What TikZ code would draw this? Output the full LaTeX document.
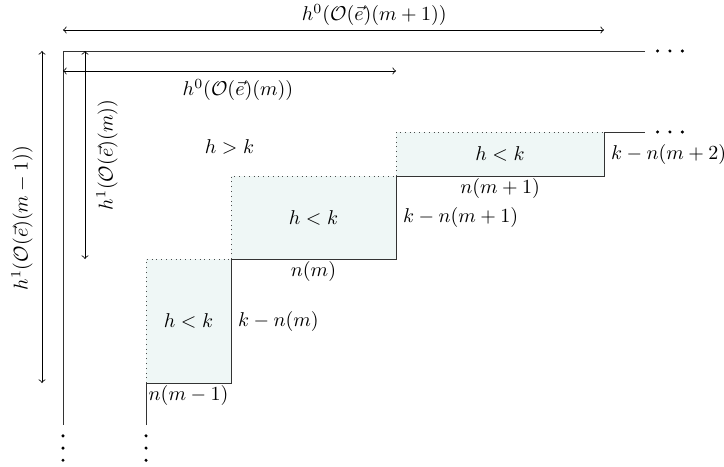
\documentclass[tikz,border=0pt]{standalone}
\usepackage{amsmath}
\usetikzlibrary{calc}

\definecolor{cellfill}{RGB}{239,247,246}

\begin{document}
\begin{tikzpicture}[
  >=to,
  frame/.style={draw=black!80},
  cell/.style={fill=cellfill},
  open/.style={dotted, draw=black!70},
  dot/.style={circle, fill=black, inner sep=0pt, minimum size=1.7pt},
]
\useasboundingbox (-1.107, 0.896) rectangle (11.615, -7.293);

% Corner and ends of the frame
\coordinate (O)  at (0, 0);
\coordinate (TR) at (10.227, 0);
\coordinate (BL) at (0, -6.572);

% Staircase corners
\coordinate (S0) at (1.459, -6.572);
\coordinate (S1) at (1.459, -5.834);
\coordinate (S2) at (2.952, -5.834);
\coordinate (S3) at (2.952, -3.655);
\coordinate (S4) at (5.852, -3.655);
\coordinate (S5) at (5.852, -2.197);
\coordinate (S6) at (9.507, -2.197);
\coordinate (S7) at (9.507, -1.423);
\coordinate (S8) at (10.227, -1.423);

% Shaded cells
\fill[cell] (S1) rectangle (S3);
\fill[cell] (S3) rectangle (S5);
\fill[cell] (S5) rectangle (S7);
\draw[open] (S1) |- (S3);
\draw[open] (S3) |- (S5);
\draw[open] (S5) |- (S7);

% Frame and staircase
\draw[frame] (TR) -- (O) -- (BL);
\draw[frame] (S0) -- (S1) -| (S3) -| (S5) -| (S7) -- (S8);

% Dots
\foreach \i in {0,1,2} {
  \node[dot] at ($(TR)+(0.22+0.218*\i, 0)$) {};
  \node[dot] at ($(S8)+(0.22+0.218*\i, 0)$) {};
  \node[dot] at ($(BL)+(0, -0.19-0.215*\i)$) {};
  \node[dot] at ($(S0)+(0, -0.19-0.215*\i)$) {};
}

% Dimension arrows
\coordinate (h0a) at (0, 0.369);
\coordinate (h0b) at (9.507, 0.369);
\coordinate (h0c) at (0, -0.351);
\coordinate (h0d) at (5.852, -0.351);
\coordinate (h1a) at (-0.369, 0);
\coordinate (h1b) at (-0.369, -5.834);
\coordinate (h1c) at (0.387, 0);
\coordinate (h1d) at (0.387, -3.655);
\draw[<->] (h0a) -- (h0b);
\draw[<->] (h0c) -- (h0d);
\draw[<->] (h1a) -- (h1b);
\draw[<->] (h1c) -- (h1d);

\node (H0next) at (5.47, 0.633)  {$h^0(\mathcal{O}(\vec{e})(m+1))$};
\node (H0)     at (3.075, -0.685) {$h^0(\mathcal{O}(\vec{e})(m))$};
\node[rotate=90] (H1prev) at (-0.72, -2.935) {$h^1(\mathcal{O}(\vec{e})(m-1))$};
\node[rotate=90] (H1)     at (0.773, -1.828) {$h^1(\mathcal{O}(\vec{e})(m))$};

% Region labels
\node (big) at (2.926, -1.687) {$h > k$};
\node (C1) at ($(S1)!0.5!(S3)$) {$h < k$};
\node (C2) at ($(S3)!0.5!(S5)$) {$h < k$};
\node (C3) at ($(S5)!0.5!(S7)$) {$h < k$};

% Step sizes
\node[below, inner sep=1pt] (N1) at ($(S1)!0.5!(S2)$) {$n(m-1)$};
\node[right]                (K1) at ($(S2)!0.5!(S3)$) {$k-n(m)$};
\node[below, inner sep=1pt] (N2) at ($(S3)!0.5!(S4)$) {$n(m)$};
\node[right]                (K2) at ($(S4)!0.5!(S5)$) {$k-n(m+1)$};
\node[below, inner sep=1pt] (N3) at ($(S5)!0.5!(S6)$) {$n(m+1)$};
\node[right]                (K3) at ($(S6)!0.5!(S7)$) {$k-n(m+2)$};

\end{tikzpicture}
\end{document}
